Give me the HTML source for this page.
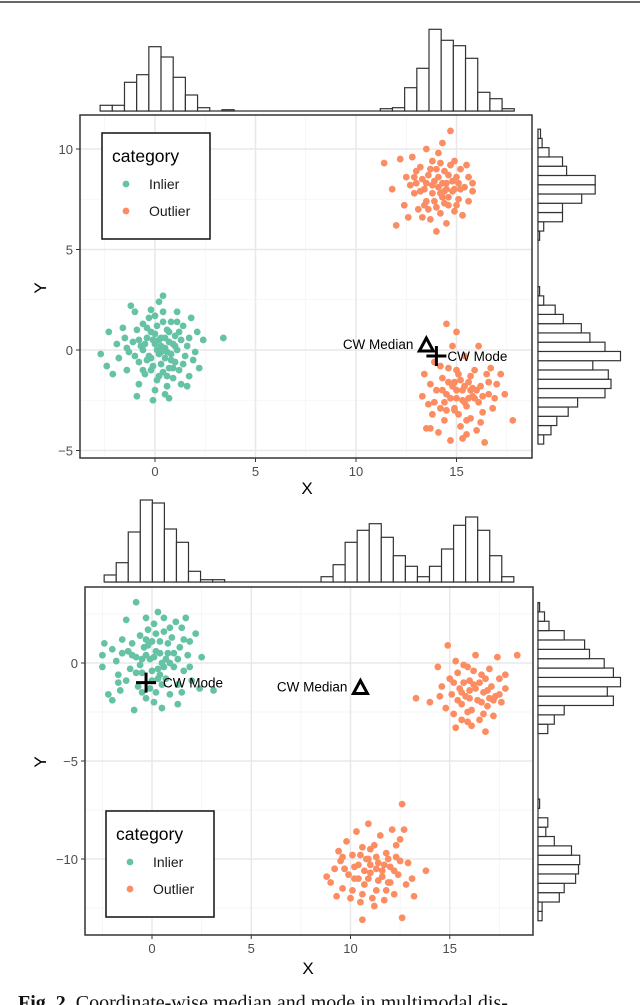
<!DOCTYPE html>
<html><head><meta charset="utf-8"><style>
body{margin:0;background:#fff;width:640px;height:1005px;overflow:hidden}
svg{display:block;font-family:"Liberation Sans",sans-serif}
</style></head><body>
<svg id="fig" width="640" height="1005" viewBox="0 0 640 1005">
<line x1="0" y1="2" x2="640" y2="2" stroke="#333" stroke-width="1.5"/>
<text x="18" y="1009" font-family="Liberation Serif,serif" font-size="20" fill="#111"><tspan font-weight="bold">Fig. 2.</tspan> Coordinate-wise median and mode in multimodal dis-</text>
</svg>
<script>
// ---- Data: top panel ----
const topInlier=[[-2.3,0.9],[-2.7,-0.2],[-2.4,-0.8],[-2.1,-1.2],[-1.8,-0.4],[-1.9,0.3],[-1.5,0.6],[-1.4,-1.0],[-1.2,2.2],[-1.0,1.9],[-1.3,-0.1],[-1.1,0.4],[-0.9,1.0],[-0.8,-0.6],[-0.7,0.2],[-0.6,1.3],[-0.5,-1.2],[-0.4,0.6],[-0.3,-0.3],[-0.3,1.6],[-0.2,0.9],[-0.1,-0.8],[0.0,0.3],[0.0,-2.0],[0.1,1.2],[0.1,-1.5],[0.2,-0.2],[0.2,2.4],[0.3,0.6],[0.3,-0.7],[0.4,2.7],[0.4,1.9],[0.4,-1.1],[0.5,0.1],[0.5,-0.4],[0.6,1.0],[0.6,-1.8],[0.7,0.4],[0.7,-0.9],[0.8,1.4],[0.8,-0.2],[0.9,-1.4],[1.0,0.7],[1.0,-0.6],[1.1,1.9],[1.1,0.0],[1.2,-1.0],[1.3,0.5],[1.3,-1.7],[1.4,1.2],[1.5,-0.3],[1.6,0.2],[1.7,-1.3],[1.8,1.6],[1.9,-0.5],[2.1,0.9],[2.2,-0.9],[2.4,0.5],[3.4,0.6],[-0.1,-2.5],[0.5,-2.2],[-0.9,-2.3],[-0.6,0.0],[0.9,0.3],[-0.2,-1.0],[0.2,0.5],[0.6,-0.1],[-0.4,-0.5],[1.2,0.9],
[-0.5,0.3],[0.0,0.8],[0.3,-0.1],[0.7,0.9],[-0.2,-0.4],[0.8,-0.5],[0.1,0.0],[-0.8,0.5],[1.0,0.2],[0.4,1.4],[-0.4,1.1],[0.6,-1.3],[-1.0,-0.3],[1.4,-0.7],[0.2,-1.3],[-0.6,-1.0],[1.1,1.4],[0.0,1.7],[-1.6,1.1],[1.7,0.6],[0.5,0.6],[-0.1,0.5],[0.9,-0.9],[0.3,0.2],[-1.4,0.1],[2.0,-0.1],[0.7,-2.4],[-0.2,2.0],[1.6,-1.8],[-0.8,-1.7]];
const topOutlierA=[[11.4,9.3],[11.8,8.0],[12.0,6.2],[12.2,9.5],[12.4,7.2],[12.5,8.6],[12.6,6.6],[12.8,9.6],[12.9,7.8],[13.0,8.3],[13.1,7.0],[13.2,9.1],[13.3,6.6],[13.4,8.0],[13.5,10.0],[13.5,7.4],[13.6,8.7],[13.7,6.5],[13.8,9.4],[13.8,7.8],[13.9,8.4],[14.0,5.9],[14.0,7.1],[14.1,9.8],[14.1,8.1],[14.2,6.8],[14.3,10.3],[14.3,7.6],[14.4,8.9],[14.5,6.3],[14.5,8.3],[14.6,7.2],[14.7,10.9],[14.7,9.2],[14.8,7.9],[14.9,6.9],[15.0,8.6],[15.1,7.5],[15.2,9.0],[15.3,6.7],[15.4,8.1],[15.5,9.2],[15.6,7.4],[15.8,8.3],[15.8,7.9],[13.0,8.9],[13.6,7.0],[14.4,7.9],[14.9,8.0],[13.3,8.5],[14.0,9.0],[14.6,8.7],[15.1,8.3],
[13.8,8.2],[14.2,7.8],[14.5,8.0],[13.5,8.3],[14.8,8.4],[14.1,8.6],[13.9,7.4],[14.6,7.6],[13.2,7.9],[15.2,8.0],[14.3,8.3],[13.7,9.0],[15.0,7.2],[12.7,8.2],[14.9,9.4],[13.4,7.2],[15.6,8.6],[12.9,8.6],[14.2,9.3],[14.4,7.3]];
const topOutlierB=[[13.4,-1.2],[13.3,-2.3],[13.5,-3.9],[13.6,-2.7],[13.7,-1.7],[13.8,-3.2],[13.9,-0.6],[14.0,-2.0],[14.1,-4.1],[14.2,-2.9],[14.3,-1.4],[14.4,-3.5],[14.5,1.3],[14.5,-2.2],[14.6,-0.9],[14.7,-4.5],[14.8,-1.8],[14.9,-3.0],[15.0,-2.4],[15.0,0.9],[15.1,-1.2],[15.2,-3.8],[15.3,-2.0],[15.4,-0.3],[15.5,-2.8],[15.6,-1.6],[15.7,-3.4],[15.8,-2.3],[15.9,-1.0],[16.0,-4.0],[16.1,-2.6],[16.2,-1.8],[16.3,-3.1],[16.4,-4.6],[16.5,-1.2],[16.6,-2.2],[16.7,-0.9],[16.8,-2.9],[17.0,-1.7],[17.4,-2.2],[17.8,-3.5],[14.9,-1.6],[15.3,-2.5],[15.7,-2.0],[14.4,-2.6],[15.9,-2.4],[16.1,0.2],[14.8,0.2],[15.5,-4.2],
[15.0,-2.0],[15.4,-1.8],[14.7,-2.4],[15.6,-2.4],[15.2,-1.5],[15.8,-1.9],[14.6,-1.6],[15.4,-2.6],[16.0,-2.0],[14.9,-2.9],[15.7,-1.3],[15.1,-3.2],[16.3,-2.3],[14.3,-2.0],[15.5,-3.5],[16.6,-1.6],[13.9,-2.6],[16.9,-2.4],[15.0,-1.0],[14.5,-3.0],[16.2,-3.6],[15.3,-4.4],[14.2,-0.8],[17.2,-1.2],[13.7,-3.9]];
const topHistX=[5.7,5.7,28.7,36.3,64.3,54,33.7,16,3.3,0,1.3,0,0,0,0,0,0,0,0,0,0,0,0,2.3,3.3,23.3,42.7,81.7,70.7,65.3,52.7,18.7,12.3,2.3];
const topHistY=[5.7,13,18.8,30.2,39.6,67,73,70.3,54.8,82.5,67,51.9,43.3,25.3,17.2,5.7,1.6,0,0,0,0,0,1.6,5.7,24.5,24.5,43.7,57.2,57.2,28.6,24.5,11,4.1,2.5];
const topMedian=[13.5,0.2], topMode=[14,-0.3];
// ---- Data: bottom panel ----
const botInlier=[[-2.4,1.0],[-2.5,0.4],[-2.5,-0.2],[-2.2,-1.6],[-2.0,-1.9],[-1.8,0.1],[-1.7,-0.6],[-1.6,-1.4],[-1.5,1.2],[-1.3,2.2],[-1.2,0.6],[-1.1,-0.3],[-1.0,1.0],[-0.9,-2.4],[-0.8,3.1],[-0.8,0.3],[-0.7,-1.2],[-0.6,1.4],[-0.5,-0.5],[-0.4,0.8],[-0.3,-1.8],[-0.2,1.7],[-0.1,0.2],[0.0,-0.9],[0.1,2.0],[0.2,0.6],[0.2,-1.5],[0.3,2.6],[0.3,-0.3],[0.4,1.1],[0.5,-2.3],[0.5,0.0],[0.6,1.6],[0.7,-0.8],[0.8,0.5],[0.9,-1.6],[1.0,1.3],[1.1,-0.2],[1.2,2.1],[1.3,-1.1],[1.4,0.8],[1.5,1.8],[1.6,-0.4],[1.7,2.3],[1.8,0.4],[1.9,1.1],[2.0,-0.9],[2.4,-1.3],[2.5,0.3],[3.1,-1.4],[1.3,-2.1],[-0.3,0.4],[0.0,1.1],[0.4,-0.6],[-0.6,-0.1],[0.9,0.0],[1.5,-1.5],[-1.3,-0.9],
[0.1,0.3],[-0.2,0.9],[0.4,0.5],[-0.5,0.2],[0.6,-0.2],[0.0,-0.4],[-0.3,1.2],[0.8,1.0],[0.2,1.5],[-0.8,-0.5],[1.1,0.5],[-0.1,-1.3],[0.5,-1.1],[-1.0,0.4],[1.3,0.2],[0.3,-0.8],[-0.5,-1.5],[0.9,1.8],[-1.5,0.5],[0.7,0.2],[1.6,1.2],[-0.3,2.3],[1.9,-0.2],[0.1,-2.0],[-2.0,0.7],[2.2,1.5],[-1.7,-1.0],[0.6,2.3]];
const botOutlierA=[[13.3,-1.8],[14.0,-2.0],[14.4,-0.2],[14.6,-1.2],[14.8,-2.3],[14.9,0.9],[15.0,-0.8],[15.1,-1.6],[15.2,-2.6],[15.3,-3.3],[15.4,-0.5],[15.5,-1.3],[15.6,-2.1],[15.7,-0.1],[15.8,-1.7],[15.9,-3.0],[16.0,-0.9],[16.1,-2.4],[16.2,-1.1],[16.3,0.4],[16.4,-1.9],[16.5,-2.9],[16.6,-0.6],[16.7,-1.5],[16.8,-3.5],[16.9,-2.2],[17.0,-0.3],[17.1,-1.2],[17.2,-2.7],[17.3,-1.7],[17.4,0.3],[17.5,-0.8],[17.6,-2.0],[17.8,-1.3],[18.4,0.4],[16.0,-1.4],[16.5,-1.0],[15.6,-1.5],[17.0,-1.8],[15.9,-0.2],
[16.0,-1.8],[16.3,-1.3],[15.7,-1.0],[16.6,-2.0],[15.4,-1.9],[16.9,-1.4],[15.9,-2.5],[16.2,-0.4],[17.2,-1.9],[15.2,-1.0],[16.7,-2.6],[15.6,-2.9],[16.8,-0.8],[14.5,-1.7],[17.5,-1.6],[16.1,-3.2],[15.3,0.1],[17.8,-0.6]];
const botOutlierB=[[8.8,-10.9],[9.0,-11.2],[9.2,-10.5],[9.3,-11.9],[9.4,-9.6],[9.5,-10.1],[9.6,-11.5],[9.8,-9.1],[9.9,-10.8],[10.0,-12.0],[10.1,-9.8],[10.2,-11.0],[10.3,-8.6],[10.4,-10.3],[10.5,-12.2],[10.6,-13.1],[10.6,-9.4],[10.7,-11.3],[10.8,-10.0],[10.9,-8.2],[11.0,-10.7],[11.1,-12.0],[11.2,-9.3],[11.3,-11.6],[11.4,-10.2],[11.5,-8.8],[11.6,-10.9],[11.7,-12.1],[11.8,-9.7],[11.9,-11.2],[12.0,-10.4],[12.1,-8.5],[12.2,-11.8],[12.3,-9.9],[12.4,-10.8],[12.5,-9.0],[12.6,-13.0],[12.6,-7.2],[12.7,-8.5],[12.9,-10.2],[13.1,-11.0],[13.2,-11.9],[13.8,-10.6],[11.3,-10.5],[10.9,-10.0],[11.7,-10.3],[10.4,-11.0],[12.0,-11.2],
[11.0,-10.3],[11.3,-9.9],[10.7,-10.6],[11.6,-10.6],[10.5,-9.8],[11.9,-10.0],[10.9,-11.0],[11.4,-11.1],[10.2,-10.4],[12.2,-10.6],[11.0,-9.5],[11.8,-11.6],[10.6,-11.8],[12.5,-10.1],[9.7,-10.5],[11.2,-12.4],[9.6,-9.9],[12.8,-11.3],[10.1,-11.6],[12.3,-9.3]];
const botHistX=[7,19.3,50,82,79,53,39.7,10.7,2.3,2.3,0,0,0,0,0,0,0,0,5.3,17.3,39.7,51.7,58.3,44.7,26.3,15.7,5.3,15.7,33,56.7,65,51.7,26.3,5.3];
const botHistY=[4.1,4.1,21.3,26.2,37.6,40.5,41.7,33.5,16.3,7.8,9.8,0,1.6,0,0,0,0,0,0,0,9.8,16.3,26.2,75.4,69.3,82.5,75.4,66.2,51.5,46.6,26.2,11,6.5,1.6];
const botMedian=[10.5,-1.3], botMode=[-0.3,-1];
const xTicks=[0,5,10,15], xTickLabels=["0","5","10","15"];
const topYTicks=[-5,0,5,10], topYTickLabels=["\u22125","0","5","10"];
const botYTicks=[-10,-5,0], botYTickLabels=["\u221210","\u22125","0"];

const NS="http://www.w3.org/2000/svg";
const svg=document.getElementById('fig');
function mk(tag,attrs,parent){const e=document.createElementNS(NS,tag);for(const k in attrs)e.setAttribute(k,attrs[k]);(parent||svg).appendChild(e);return e;}

function panel(c){
  const g=mk('g',{});
  
  
  const sx=v=>c.x0+c.kx*v, sy=v=>c.y0-c.ky*v;
  const grid=mk('g',{},g);
  
  
  c.xMinor.forEach(v=>mk('line',{x1:sx(v),x2:sx(v),y1:c.t,y2:c.b,stroke:'#f3f3f3','stroke-width':0.8},grid));
  c.yMinor.forEach(v=>mk('line',{y1:sy(v),y2:sy(v),x1:c.l,x2:c.r,stroke:'#f3f3f3','stroke-width':0.8},grid));
  c.xt.forEach(v=>mk('line',{x1:sx(v),x2:sx(v),y1:c.t,y2:c.b,stroke:'#e8e8e8','stroke-width':1.5},grid));
  c.yt.forEach(v=>mk('line',{y1:sy(v),y2:sy(v),x1:c.l,x2:c.r,stroke:'#e8e8e8','stroke-width':1.5},grid));
  const drawPts=(arr,col,nm)=>{const pg=mk('g',{},g);
    
    
    arr.forEach(p=>mk('circle',{cx:sx(p[0]),cy:sy(p[1]),r:3.4,fill:col},pg));};
  drawPts(c.inl,'#66c2a5','inlier-points');
  c.outs.forEach((o,i)=>drawPts(o,'#fc8d62','outlier-points-'+(i+1)));
  const [mx,my]=[sx(c.med[0]),sy(c.med[1])];
  const tri=mk('polygon',{points:`${mx},${my-8} ${mx-7},${my+5} ${mx+7},${my+5}`,fill:'none',stroke:'#000','stroke-width':3,'stroke-linejoin':'miter'},g);
  
  
  const mt=mk('text',{x:mx-13,y:my+3,'font-size':13.5,'text-anchor':'end',fill:'#000'},g);mt.textContent='CW Median';
  
  
  const [ox,oy]=[sx(c.mode[0]),sy(c.mode[1])];
  const pl=mk('path',{d:`M${ox-10},${oy}H${ox+10}M${ox},${oy-10}V${oy+10}`,stroke:'#000','stroke-width':3},g);
  
  
  const ot=mk('text',{x:ox+c.modeDx,y:oy+5,'font-size':13.5,fill:'#000'},g);ot.textContent='CW Mode';
  
  
  const fr=mk('rect',{x:c.l,y:c.t,width:c.r-c.l,height:c.b-c.t,fill:'none',stroke:'#333','stroke-width':1.5},g);
  
  
  c.xt.forEach((v,i)=>{mk('line',{x1:sx(v),x2:sx(v),y1:c.b,y2:c.b+4,stroke:'#333'},g);
    const t=mk('text',{x:sx(v),y:c.b+18,'font-size':13,'text-anchor':'middle',fill:'#4d4d4d'},g);t.textContent=c.xl[i];
    
    });
  c.yt.forEach((v,i)=>{mk('line',{x1:c.l-4,x2:c.l,y1:sy(v),y2:sy(v),stroke:'#333'},g);
    const t=mk('text',{x:c.l-7,y:sy(v)+5,'font-size':13,'text-anchor':'end',fill:'#4d4d4d'},g);t.textContent=c.yl[i];
    
    });
  const xt=mk('text',{x:c.xTitle[0],y:c.xTitle[1],'font-size':17,'text-anchor':'middle',fill:'#000'},g);xt.textContent='X';
  
  
  const yt=mk('text',{x:0,y:0,'font-size':17,'text-anchor':'middle',fill:'#000',transform:`translate(${c.yTitle[0]},${c.yTitle[1]}) rotate(-90)`},g);yt.textContent='Y';
  
  
  const hx=mk('g',{},g);
  
  
  const nx=c.hx.length;
  mk('line',{x1:sx(c.hx0),x2:sx(c.hx0+nx*c.hxw),y1:c.hxBase,y2:c.hxBase,stroke:'#333','stroke-width':1.2},hx);
  c.hx.forEach((h,i)=>{if(h<=0)return;const a=sx(c.hx0+i*c.hxw),b=sx(c.hx0+(i+1)*c.hxw);
    const r=mk('rect',{x:a,y:c.hxBase-h,width:b-a,height:h,fill:'#fff',stroke:'#333','stroke-width':1.2},hx);
    
    });
  const hy=mk('g',{},g);
  
  
  const ny=c.hy.length;
  mk('line',{x1:c.hyBase,x2:c.hyBase,y1:sy(c.hy0),y2:sy(c.hy0+ny*c.hyw),stroke:'#333','stroke-width':1.2},hy);
  c.hy.forEach((h,i)=>{if(h<=0)return;const a=sy(c.hy0+(i+1)*c.hyw),b=sy(c.hy0+i*c.hyw);
    const r=mk('rect',{x:c.hyBase,y:a,width:h,height:b-a,fill:'#fff',stroke:'#333','stroke-width':1.2},hy);
    
    });
  const L=c.leg;const lg=mk('g',{},g);
  
  
  mk('rect',{x:L.x,y:L.y,width:108,height:106,fill:'#fff',stroke:'#111','stroke-width':1.5},lg);
  const lt=mk('text',{x:L.x+10,y:L.y+29,'font-size':17.5,fill:'#000'},lg);lt.textContent='category';
  
  
  [['Inlier','#66c2a5',56],['Outlier','#fc8d62',83]].forEach(([n,col,dy])=>{
    const e=mk('g',{},lg);
    
    
    mk('circle',{cx:L.x+24,cy:L.y+dy-5,r:3.4,fill:col},e);
    const tt=mk('text',{x:L.x+47,y:L.y+dy,'font-size':14,fill:'#1a1a1a'},e);tt.textContent=n;});
}

panel({name:'top-panel',l:80,r:532,t:115,b:458,x0:155,kx:20.1,y0:350,ky:20.1,
  xt:xTicks,xl:xTickLabels,yt:topYTicks,yl:topYTickLabels,
  xMinor:[-2.5,2.5,7.5,12.5,17.5],yMinor:[-2.5,2.5,7.5],
  inl:topInlier,outs:[topOutlierA,topOutlierB],med:topMedian,mode:topMode,modeDx:11,
  xTitle:[307,494],yTitle:[46,288],
  hx:topHistX,hx0:-2.73,hxw:0.606,hxBase:111,
  hy:topHistY,hy0:-4.68,hyw:0.4608,hyBase:538,
  leg:{x:102,y:133}});
panel({name:'bottom-panel',l:85,r:533,t:587,b:935,x0:152,kx:19.85,y0:663,ky:19.6,
  xt:xTicks,xl:xTickLabels,yt:botYTicks,yl:botYTickLabels,
  xMinor:[-2.5,2.5,7.5,12.5,17.5],yMinor:[-12.5,-7.5,-2.5,2.5],
  inl:botInlier,outs:[botOutlierA,botOutlierB],med:botMedian,mode:botMode,modeDx:17,
  xTitle:[308,974],yTitle:[46,762],
  hx:botHistX,hx0:-2.41,hxw:0.607,hxBase:582,
  hy:botHistY,hy0:-13.15,hyw:0.4775,hyBase:538,
  leg:{x:106,y:811}});
</script>
</body></html>
